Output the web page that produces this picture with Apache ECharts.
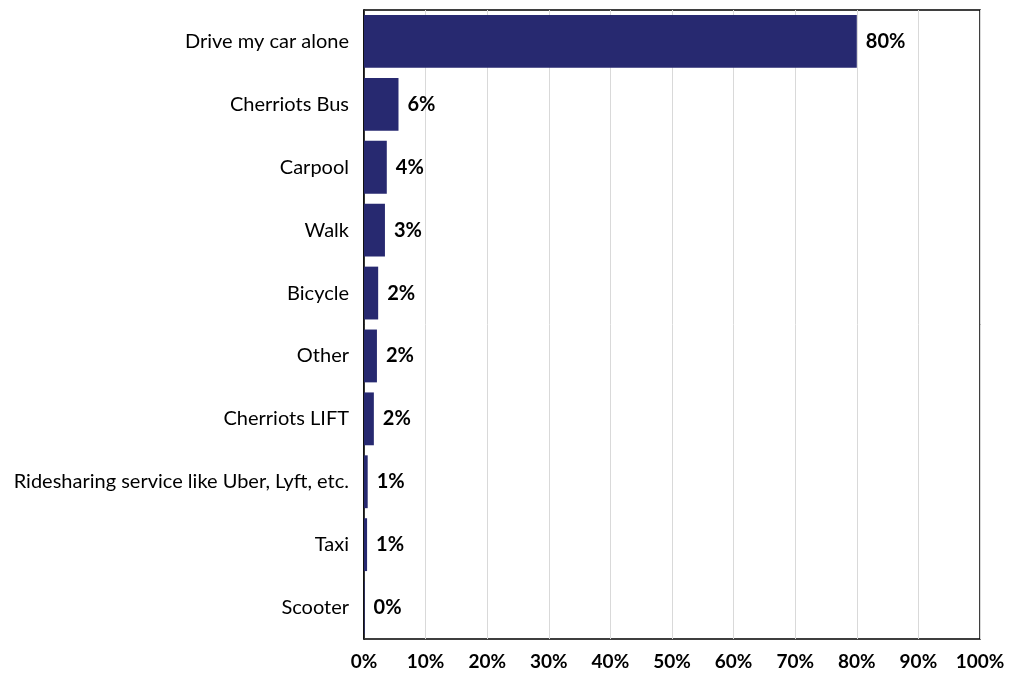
<!DOCTYPE html>
<html>
<head>
<meta charset="utf-8">
<script src="https://cdn.jsdelivr.net/npm/echarts@6/dist/echarts.min.js"></script>
<style>html,body{margin:0;padding:0;background:#fff}#c{width:1009px;height:673px}</style>
</head>
<body>
<div id="c"></div>
<script>
const categories = ["Drive my car alone","Cherriots Bus","Carpool","Walk","Bicycle","Other","Cherriots LIFT","Ridesharing service like Uber, Lyft, etc.","Taxi","Scooter"];
const values = [80, 5.6, 3.7, 3.4, 2.3, 2.1, 1.6, 0.6, 0.5, 0.1];
const xTicks = [0,10,20,30,40,50,60,70,80,90,100];

const chart = echarts.init(document.getElementById('c'));
const FONT = 'Lato, sans-serif';
chart.setOption({
  animation: false,
  grid: {left: 364, right: 29, top: 10, bottom: 34, show: true, borderColor: '#000', borderWidth: 1.5, backgroundColor: 'transparent'},
  xAxis: {
    type: 'value', min: 0, max: 100, interval: 10,
    axisLine: {show: false}, axisTick: {show: false},
    splitLine: {show: true, lineStyle: {color: '#d9d9d9', width: 1}},
    axisLabel: {formatter: v => v + '%', color: '#000', fontWeight: 'bold', fontSize: 19, fontFamily: FONT, margin: 13}
  },
  yAxis: {
    type: 'category', inverse: true, data: categories,
    axisLine: {show: true, lineStyle: {color: '#000', width: 1.5}}, axisTick: {show: false},
    axisLabel: {color: '#000', fontSize: 20, fontFamily: FONT, margin: 15}
  },
  series: [{
    type: 'bar', data: values, barCategoryGap: '16%',
    itemStyle: {color: '#272970'},
    label: {show: true, position: 'right', distance: 9, formatter: p => Math.round(p.value) + '%', color: '#000', fontWeight: 'bold', fontSize: 20, fontFamily: FONT}
  }]
});
</script>
</body>
</html>
